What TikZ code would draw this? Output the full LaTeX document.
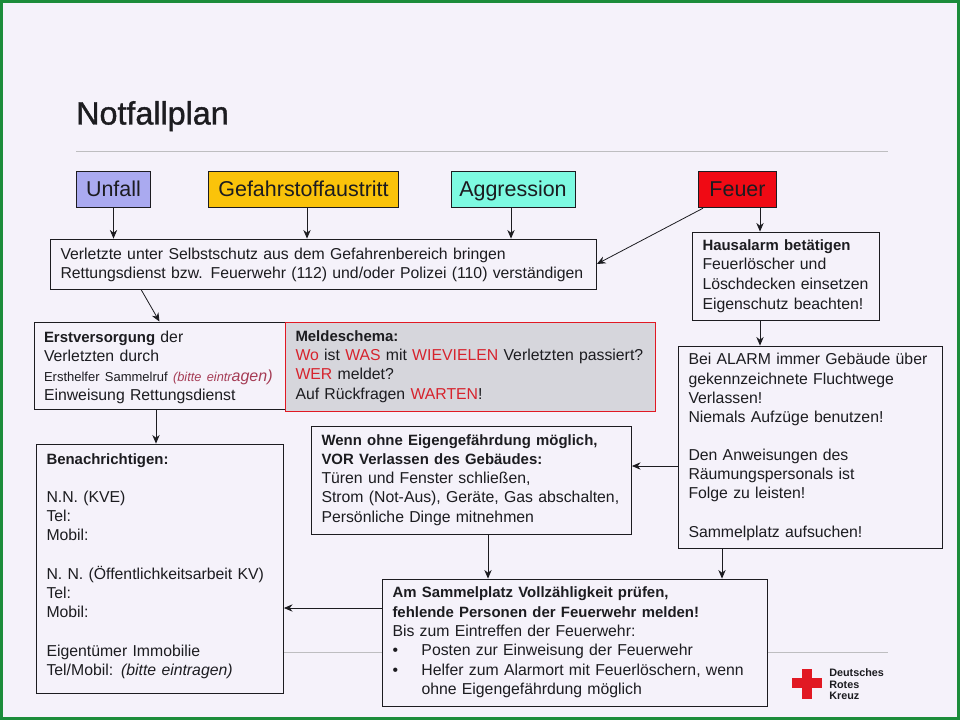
\documentclass[tikz,border=0pt]{standalone}
\usepackage{fontspec}
\setmainfont{Liberation Sans}
\newfontfamily\titlefont[FakeBold=1.2]{Liberation Sans}
\usetikzlibrary{arrows.meta}
\definecolor{bgc}{RGB}{245,242,250}
\definecolor{frame}{RGB}{28,140,58}
\definecolor{ink}{RGB}{28,28,32}
\definecolor{rule}{RGB}{190,190,192}
\definecolor{redt}{RGB}{215,35,45}
\definecolor{hint}{RGB}{165,60,85}
\definecolor{unfallc}{RGB}{170,170,240}
\definecolor{gefc}{RGB}{250,195,10}
\definecolor{aggc}{RGB}{125,250,225}
\definecolor{feuerc}{RGB}{240,10,20}
\definecolor{meldc}{RGB}{214,214,220}
\definecolor{dkred}{RGB}{225,25,35}
\newcommand{\bodyfs}[1]{\fontsize{11.85}{#1}\selectfont}
\newcommand{\hd}[1]{{\fontsize{11.2}{10}\selectfont\bfseries #1}}
\tikzset{
  head/.style={draw=ink,line width=0.6pt,font=\fontsize{16.1}{18}\selectfont,text=ink,inner sep=0pt,minimum height=27.5pt,text height=12.8pt,text depth=1.8pt},
  textbox/.style={draw=ink,line width=0.6pt,fill=bgc,text=ink,inner xsep=7.5pt,inner ysep=0pt,align=left},
  arr/.style={draw=ink,line width=0.6pt,-{Stealth[length=6.5pt,width=5.5pt]}},
  rulel/.style={draw=rule,line width=0.7pt}
}
\begin{document}
\begin{tikzpicture}[x=0.75pt,y=-0.75pt]
\useasboundingbox (0,0) rectangle (960,720);
\fill[frame] (0,0) rectangle (960,720);
\fill[bgc] (3,3) rectangle (957,717);
\draw[rulel] (76,151.5) -- (888,151.5);
\draw[rulel] (76,652.5) -- (888,652.5);
\node[anchor=base west,inner sep=0pt,text=ink,font=\titlefont\fontsize{24.2}{28}\selectfont] (titel) at (76,124.5) {Notfallplan};

\node[head,fill=unfallc,minimum width=56pt] (unfall) at (113.5,189.5) {Unfall};
\node[head,fill=gefc,minimum width=143pt] (gefahr) at (303.5,189.5) {Gefahrstoffaustritt};
\node[head,fill=aggc,minimum width=93pt] (aggr) at (513,189.5) {Aggression};
\node[head,fill=feuerc,minimum width=59pt] (feuer) at (737.5,189.5) {Feuer};

\node[textbox,text width=394.5pt,minimum height=37.5pt,font=\bodyfs{14.4}] (verl) at (323.5,264)
 {\rule{0pt}{10.1pt}Verletzte unter Selbstschutz aus dem Gefahrenbereich bringen\\
  Rettungsdienst bzw. Feuerwehr (112) und/oder Polizei (110) verständigen};

\node[textbox,text width=125.25pt,minimum height=66pt,font=\bodyfs{14.7}] (haus) at (786,276)
 {\hd{Hausalarm betätigen}\\Feuerlöscher und\\Löschdecken einsetzen\\Eigenschutz beachten!};

\node[textbox,text width=173.25pt,minimum height=65.25pt,font=\bodyfs{14.6}] (erst) at (159.5,365.5)
 {\rule{0pt}{11.6pt}\hd{Erstversorgung} der\\Verletzten durch\\{\fontsize{9.75}{14.6}\selectfont Ersthelfer Sammelruf\hspace{4pt}\textcolor{hint}{\itshape\fontsize{9.6}{14.6}\selectfont(bitte eintr\fontsize{12}{14.6}\selectfont agen)}}\\Einweisung Rettungsdienst};

\node[textbox,fill=meldc,draw=dkred,text width=262.5pt,minimum height=66.75pt,font=\bodyfs{14.4}] (meld) at (470.5,366.5)
 {\hd{Meldeschema:}\\\textcolor{redt}{Wo} ist \textcolor{redt}{WAS} mit \textcolor{redt}{WIEVIELEN} Verletzten passiert?\\\textcolor{redt}{WER} meldet?\\Auf Rückfragen \textcolor{redt}{WARTEN}!};

\node[textbox,text width=183pt,minimum height=151.5pt,font=\bodyfs{14.35}] (alarm) at (810.5,447)
 {Bei ALARM immer Gebäude über\\gekennzeichnete Fluchtwege\\Verlassen!\\Niemals Aufzüge benutzen!\\[14.35pt]Den Anweisungen des\\Räumungspersonals ist\\Folge zu leisten!\\[14.35pt]Sammelplatz aufsuchen!};

\node[textbox,text width=225pt,minimum height=81pt,font=\bodyfs{14.4}] (wenn) at (471.5,480)
 {\hd{Wenn ohne Eigengefährdung möglich,}\\\hd{VOR Verlassen des Gebäudes:}\\Türen und Fenster schließen,\\Strom (Not-Aus), Geräte, Gas abschalten,\\Persönliche Dinge mitnehmen};

\node[textbox,text width=170.25pt,minimum height=186.75pt,font=\bodyfs{14.4}] (benach) at (160,568.5)
 {\hd{Benachrichtigen:}\\[14.4pt]N.N. (KVE)\\Tel:\\Mobil:\\[14.4pt]N. N. (Öffentlichkeitsarbeit KV)\\Tel:\\Mobil:\\[14.4pt]Eigentümer Immobilie\\Tel/Mobil: \textit{(bitte eintragen)}\rule[-6.3pt]{0pt}{1pt}};

\node[textbox,text width=273.75pt,minimum height=95.25pt,font=\bodyfs{14.5}] (samml) at (575,642.5)
 {\hd{Am Sammelplatz Vollzähligkeit prüfen,}\\\hd{fehlende Personen der Feuerwehr melden!}\\Bis zum Eintreffen der Feuerwehr:\\\makebox[21.75pt][l]{•}Posten zur Einweisung der Feuerwehr\\\makebox[21.75pt][l]{•}Helfer zum Alarmort mit Feuerlöschern, wenn\\\hspace*{21.75pt}ohne Eigengefährdung möglich};

\draw[arr] (unfall.south) -- (verl.north -| unfall.south);
\draw[arr] (gefahr.south -| 307,0) -- (verl.north -| 307,0);
\draw[arr] (aggr.south -| 511,0) -- (verl.north -| 511,0);
\draw[arr] (feuer.south -| 703,0) -- (verl.east);
\draw[arr] (feuer.south -| 760,0) -- (haus.north -| 760,0);
\draw[arr] (verl.south -| 141,0) -- (erst.north);
\draw[arr] (haus.south -| 760,0) -- (alarm.north -| 760,0);
\draw[arr] (erst.south -| 156,0) -- (benach.north -| 156,0);
\draw[arr] (alarm.west |- 0,466) -- (wenn.east |- 0,466);
\draw[arr] (wenn.south -| 488,0) -- (samml.north -| 488,0);
\draw[arr] (alarm.south -| 722,0) -- (samml.north -| 722,0);
\draw[arr] (samml.west |- 0,608) -- (benach.east |- 0,608);

\fill[dkred] (792,678) rectangle (822,688);
\fill[dkred] (802,668.5) rectangle (812,698.5);
\node[anchor=north west,inner sep=0pt,align=left,text=ink,font=\fontsize{8.1}{8.6}\selectfont\bfseries] (logo) at (829,668.5) {Deutsches\\Rotes\\Kreuz};
\end{tikzpicture}
\end{document}
